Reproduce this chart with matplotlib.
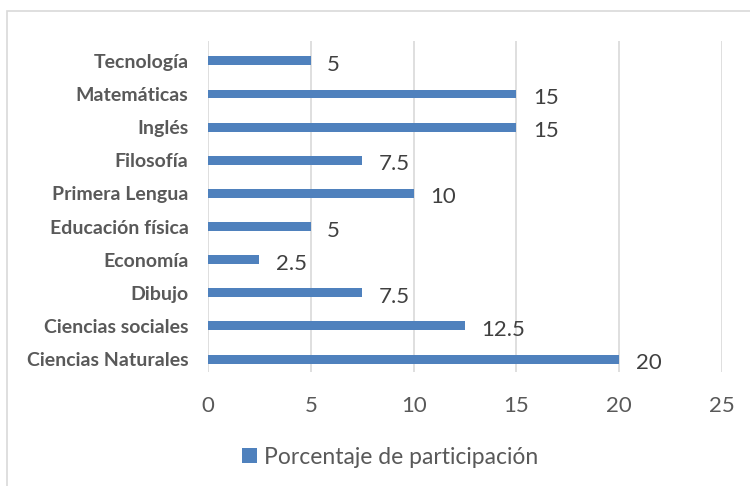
import matplotlib.pyplot as plt
from matplotlib.patches import Rectangle

categorias = ['Ciencias Naturales', 'Ciencias sociales', 'Dibujo', 'Economía',
              'Educación física', 'Primera Lengua', 'Filosofía', 'Inglés',
              'Matemáticas', 'Tecnología']
porcentaje = [20, 12.5, 7.5, 2.5, 5, 10, 7.5, 15, 15, 5]
etiquetas = ['20', '12.5', '7.5', '2.5', '5', '10', '7.5', '15', '15', '5']
ticks_x = [0, 5, 10, 15, 20, 25]

plt.rcParams['font.family'] = ['Lato', 'DejaVu Sans']
gris = '#595959'
azul = '#4f81bd'

fig = plt.figure(figsize=(7.5, 4.86), dpi=100)
fig.patches.append(Rectangle((7 / 750, -0.1), 1.2, 1 - 11 / 486 + 0.1,
                             transform=fig.transFigure, fill=False,
                             edgecolor='#d9d9d9', linewidth=1.2))
ax = fig.add_axes([208 / 750, 1 - 372 / 486, 514 / 750, 331 / 486])

y = list(range(len(categorias)))
ax.barh(y, porcentaje, height=0.27, color=azul, zorder=3,
        label='Porcentaje de participación')

# etiquetas de valor a la derecha de cada barra
for yi, v, t in zip(y, porcentaje, etiquetas):
    ax.text(v + 0.8, yi - 0.12, t, fontsize=16, color='#404040',
            va='center', ha='left')

ax.set_xlim(0, 25)
ax.set_ylim(-0.39, 9.6)
ax.set_xticks(ticks_x)
ax.set_xticklabels([str(t) for t in ticks_x], fontsize=16, color=gris)
ax.set_yticks(y)
ax.set_yticklabels(categorias, fontsize=14, fontweight='bold', color=gris)
ax.tick_params(axis='both', length=0)
ax.tick_params(axis='x', pad=17)
ax.tick_params(axis='y', pad=14)
ax.grid(axis='x', color='#d9d9d9', linewidth=1.2, zorder=0)
for s in ax.spines.values():
    s.set_visible(False)

fig.legend(loc='center', bbox_to_anchor=(390 / 750, 1 - 457 / 486),
           frameon=False, fontsize=16.5, labelcolor=gris,
           handlelength=0.65, handleheight=0.65, handletextpad=0.3)

fig.savefig('out.png', dpi=100)
